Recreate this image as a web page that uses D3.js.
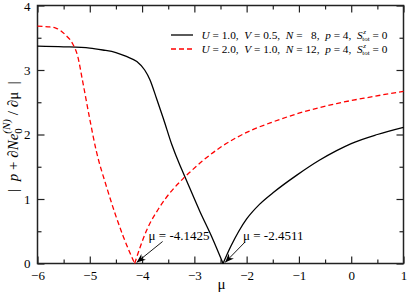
<!DOCTYPE html>
<html><head><meta charset="utf-8">
<script src="https://cdn.jsdelivr.net/npm/d3@7"></script>
<style>
html,body{margin:0;padding:0;background:#fff;}
svg text{font-family:'Liberation Serif','Times New Roman',Tinos,Times,serif !important;fill:#000;}
</style></head>
<body>
<svg id="chart" width="407" height="293"></svg>
<script>
// ---- data ----
const xTicks = [-6,-5,-4,-3,-2,-1,0,1];
const yTicks = [0,1,2,3,4];
const seriesLabels = ["U = 1.0, V = 0.5, N = 8, p = 4", "U = 2.0, V = 1.0, N = 12, p = 4"];
// black: U=1.0, V=0.5, N=8
const blackMu  = [-6,-5.5,-5,-4.75,-4.5,-4.3,-4.1,-3.95,-3.85,-3.72,-3.59,-3.43,-3.28,-3.21,-2.89,-2.67,-2.4511,-2.3,-2.15,-2.0,-1.75,-1.49,-1.04,-0.61,-0.28,0,0.5,1];
const blackVal = [3.37,3.36,3.34,3.31,3.27,3.21,3.13,3.00,2.85,2.55,2.24,1.84,1.53,1.40,0.80,0.42,0,0.27,0.50,0.69,0.92,1.10,1.37,1.60,1.75,1.86,2.00,2.11];
// red: U=2.0, V=1.0, N=12
const redMu  = [-6,-5.8,-5.65,-5.46,-5.33,-5.23,-5.14,-5.01,-4.88,-4.68,-4.36,-4.1425,-3.91,-3.66,-3.21,-3.08,-2.83,-2.52,-1.90,-1.55,-1.0,-0.28,0.36,1];
const redVal = [3.68,3.67,3.65,3.54,3.41,3.21,2.84,2.28,1.76,1.19,0.42,0,0.52,0.88,1.32,1.42,1.60,1.79,2.07,2.18,2.33,2.48,2.58,2.67];
const minima = [-4.1425,-2.4511];
const minimaLabels = ["μ = -4.1425","μ = -2.4511"];

// ---- layout ----
const FONT = "'Liberation Serif','Times New Roman',Tinos,Times,serif";
const svg = d3.select("#chart");
const L=37.5, R=403.5, T=5.5, B=263.5;
const x = d3.scaleLinear().domain([-6,1]).range([L,R]);
const y = d3.scaleLinear().domain([0,4]).range([B,T]);

const minorX = d3.range(-6,1.001,0.5).filter(v=>Math.abs(v-Math.round(v))>1e-6);
const minorY = d3.range(0,4.001,0.5).filter(v=>Math.abs(v-Math.round(v))>1e-6);

function styleAxis(g){
  g.attr("font-family",FONT).attr("font-size",13);
  g.select(".domain").remove();
  g.selectAll("line").attr("stroke","#222").attr("stroke-width",1.2);
  g.selectAll("text").attr("fill","#000");
}

// bottom
svg.append("g").attr("transform",`translate(0,${B})`)
  .call(d3.axisBottom(x).tickValues(xTicks).tickSize(-7).tickPadding(5).tickFormat(d3.format("d")))
  .call(styleAxis).selectAll("text").attr("dy","0.75em").attr("y",7);
svg.append("g").attr("transform",`translate(0,${B})`)
  .call(d3.axisBottom(x).tickValues(minorX).tickSize(-4).tickFormat(""))
  .call(styleAxis);
// top
svg.append("g").attr("transform",`translate(0,${T})`)
  .call(d3.axisTop(x).tickValues(xTicks).tickSize(-7).tickFormat("")).call(styleAxis);
svg.append("g").attr("transform",`translate(0,${T})`)
  .call(d3.axisTop(x).tickValues(minorX).tickSize(-4).tickFormat("")).call(styleAxis);
// left
svg.append("g").attr("transform",`translate(${L},0)`)
  .call(d3.axisLeft(y).tickValues(yTicks).tickSize(-7).tickPadding(7).tickFormat(d3.format("d"))).call(styleAxis)
  .selectAll(".tick text").attr("dy",d=>d===4?"0.42em":"0.32em");
svg.append("g").attr("transform",`translate(${L},0)`)
  .call(d3.axisLeft(y).tickValues(minorY).tickSize(-4).tickFormat("")).call(styleAxis);
// right
svg.append("g").attr("transform",`translate(${R},0)`)
  .call(d3.axisRight(y).tickValues(yTicks).tickSize(-7).tickFormat("")).call(styleAxis);
svg.append("g").attr("transform",`translate(${R},0)`)
  .call(d3.axisRight(y).tickValues(minorY).tickSize(-4).tickFormat("")).call(styleAxis);

// frame
svg.append("rect").attr("x",L).attr("y",T).attr("width",R-L).attr("height",B-T)
  .attr("fill","none").attr("stroke","#222").attr("stroke-width",1.5);

// curves (split at the cusp)
const line = d3.line().x(d=>x(d[0])).y(d=>y(d[1])).curve(d3.curveMonotoneX);
function drawSeries(mu, val, color, dash){
  const pts = mu.map((m,i)=>[m,val[i]]);
  const k = val.indexOf(0);
  [pts.slice(0,k+1), pts.slice(k)].forEach(seg=>{
    svg.append("path").attr("d",line(seg)).attr("fill","none")
      .attr("stroke",color).attr("stroke-width",1.3)
      .attr("stroke-dasharray",dash||null);
  });
}
drawSeries(blackMu, blackVal, "#000", null);
drawSeries(redMu, redVal, "#ff0000", "5,3");

// legend
const legend = svg.append("g").attr("font-family",FONT);
const legRows = [
  {y:35, color:"#000", dash:null},
  {y:49, color:"#ff0000", dash:"5,3"}
];
const legText = [
  ["U"," = 1.0,  ","V"," = 0.5,  ","N"," =   8,  ","p"," = 4,  "],
  ["U"," = 2.0,  ","V"," = 1.0,  ","N"," = 12,  ","p"," = 4,  "]
];
legRows.forEach((r,i)=>{
  legend.append("line").attr("x1",171).attr("x2",193).attr("y1",r.y).attr("y2",r.y)
    .attr("stroke",r.color).attr("stroke-width",1.3).attr("stroke-dasharray",r.dash);
  const t = legend.append("text").attr("x",201.5).attr("y",r.y+4).style("font-size","11.3px").attr("xml:space","preserve").style("white-space","pre");
  legText[i].forEach((s,j)=>{ t.append("tspan").text(s).style("font-style", j%2===0?"italic":"normal"); });
  t.append("tspan").text("S").style("font-style","italic");
  t.append("tspan").text("z").style("font-style","italic").style("font-size","7px").attr("dy",-5).attr("dx",0.5);
  t.append("tspan").text("tot").style("font-size","7px").attr("dy",7).attr("dx",-3.5);
  t.append("tspan").text(" = 0").attr("dy",-2);
});

// annotations
const defs = svg.append("defs");
defs.append("marker").attr("id","arr").attr("viewBox","0 0 10 10").attr("refX",10).attr("refY",5)
  .attr("markerWidth",9).attr("markerHeight",9).attr("orient","auto").attr("markerUnits","userSpaceOnUse")
  .append("path").attr("d","M0,1 L10,5 L0,9 L3,5 Z").attr("fill","#000");
const annOffsets = [[28,-22],[22,-21.5]];
const annTextDx = [-14,-2];
minima.forEach((m,i)=>{
  const px = x(m), py = y(0);
  const sx = px + annOffsets[i][0], sy = py + annOffsets[i][1];
  svg.append("line").attr("x1",sx).attr("y1",sy).attr("x2",px+2).attr("y2",py-1)
    .attr("stroke","#000").attr("stroke-width",0.9).attr("marker-end","url(#arr)");
  svg.append("text").attr("font-family",FONT).attr("x",sx+annTextDx[i]).attr("y",sy-2).style("font-size","13px").text(minimaLabels[i]);
});

// axis titles
svg.append("text").attr("font-family",FONT).attr("x",(L+R)/2+1).attr("y",289).attr("text-anchor","middle").style("font-size","15px").text("μ");

const yl = svg.append("text").attr("font-family",FONT).attr("transform",`translate(18,${(T+B)/2+2}) rotate(-90)`).attr("text-anchor","middle").style("font-size","15px").attr("xml:space","preserve").style("white-space","pre");
yl.append("tspan").text("|  ");
yl.append("tspan").text("p").style("font-style","italic");
yl.append("tspan").text(" + ∂");
yl.append("tspan").text("Ne").style("font-style","italic");
yl.append("tspan").text("0").style("font-size","11px").attr("dy",4);
yl.append("tspan").text("(N)").style("font-size","11px").style("font-style","italic").attr("dy",-12).attr("dx",-5.5);
yl.append("tspan").text(" / ∂μ  |").attr("dy",8);
</script>
</body></html>
